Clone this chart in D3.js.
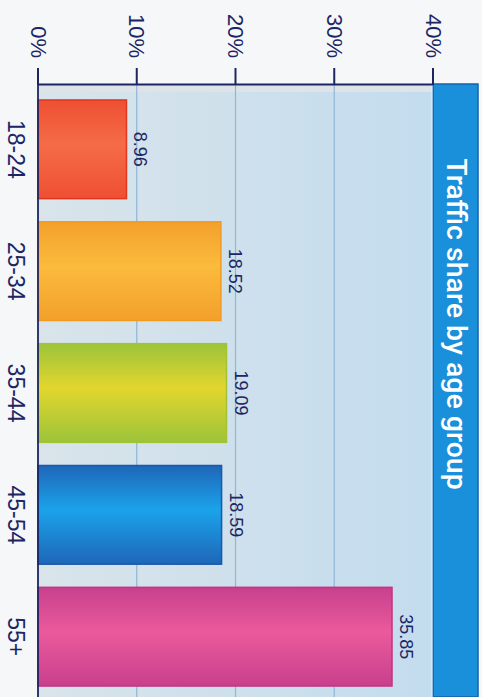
<!DOCTYPE html>
<html>
<head>
<meta charset="utf-8">
<script src="https://cdn.jsdelivr.net/npm/d3@7"></script>
<style>
  html, body { margin: 0; padding: 0; background: #f6f7f9; overflow: hidden; }
  text { font-family: "Liberation Sans", Arial, sans-serif; }
</style>
</head>
<body>
<script>
const width = 482;
const height = 697;

// chart data
const categories = ["18-24", "25-34", "35-44", "45-54", "55+"];
const values = [8.96, 18.52, 19.09, 18.59, 35.85];
const tickValues = [0, 10, 20, 30, 40];
const tickLabels = ["0%", "10%", "20%", "30%", "40%"];
const title = "Traffic share by age group";
// edge colour / centre colour per bar
const edgeColors = ["#ee4f32", "#f3a02c", "#9cc43a", "#1f66b8", "#c8408c"];
const midColors = ["#f56c47", "#fbbb3c", "#e2d62e", "#1ba3ea", "#ea5a9c"];
const strokeColors = ["#e2371f", "#f09a1e", "#a4c232", "#1b5aa8", "#c23585"];

const navy = "#1c2664";

const svg = d3.select("body")
  .append("svg")
  .attr("width", width)
  .attr("height", height)
  .attr("viewBox", [0, 0, width, height]);

const x = d3.scaleLinear().domain([0, 40]).range([38, 433]);
const y = d3.scaleBand().domain(categories).range([89, 697])
  .paddingInner(0.19).paddingOuter(0.09);

const defs = svg.append("defs");

const bg = defs.append("linearGradient").attr("id", "plotbg")
  .attr("x1", 0).attr("y1", 0).attr("x2", 1).attr("y2", 0);
bg.append("stop").attr("offset", 0).attr("stop-color", "#d9e4ea");
bg.append("stop").attr("offset", 1).attr("stop-color", "#c3dcee");

categories.forEach((c, i) => {
  const g = defs.append("linearGradient").attr("id", "bar" + i)
    .attr("x1", 0).attr("y1", 0).attr("x2", 0).attr("y2", 1);
  g.append("stop").attr("offset", 0).attr("stop-color", edgeColors[i]);
  g.append("stop").attr("offset", 0.45).attr("stop-color", midColors[i]);
  g.append("stop").attr("offset", 1).attr("stop-color", edgeColors[i]);
});

// plot background
svg.append("rect")
  .attr("x", x(0)).attr("y", 85)
  .attr("width", x(40) - x(0)).attr("height", height - 85)
  .attr("fill", "url(#plotbg)");
svg.append("rect")
  .attr("x", x(0)).attr("y", 85)
  .attr("width", x(40) - x(0)).attr("height", 7)
  .attr("fill", "#dde3e7");

// grid lines
svg.selectAll("line.grid")
  .data(tickValues.slice(1, 4))
  .enter()
  .append("line")
  .attr("class", "grid")
  .attr("x1", d => x(d)).attr("x2", d => x(d))
  .attr("y1", 85).attr("y2", height)
  .attr("stroke", "#8fb6d6")
  .attr("stroke-width", 1.2);

// title band
svg.append("rect")
  .attr("x", x(40)).attr("y", 84)
  .attr("width", 45).attr("height", height - 84)
  .attr("fill", "#1a90da")
  .attr("stroke", "#1462ae")
  .attr("stroke-width", 1.5);
svg.append("line")
  .attr("x1", x(40) - 1).attr("x2", x(40) - 1)
  .attr("y1", 85).attr("y2", height)
  .attr("stroke", "#e6f1f8").attr("stroke-width", 1);

svg.append("text")
  .attr("transform", `translate(456,324) rotate(90)`)
  .attr("text-anchor", "middle")
  .attr("dominant-baseline", "central")
  .attr("fill", "#ffffff")
  .style("font-family", "Roboto, 'Liberation Sans', sans-serif")
  .style("font-weight", 500)
  .style("font-size", "28.5px")
  .text(title);

// bars
svg.selectAll("rect.bar")
  .data(values)
  .enter()
  .append("rect")
  .attr("class", "bar")
  .attr("x", x(0))
  .attr("y", (d, i) => y(categories[i]))
  .attr("width", d => x(d) - x(0))
  .attr("height", y.bandwidth())
  .attr("fill", (d, i) => "url(#bar" + i + ")")
  .attr("stroke", (d, i) => strokeColors[i])
  .attr("stroke-width", 1.5);

// value labels
svg.selectAll("text.value")
  .data(values)
  .enter()
  .append("text")
  .attr("class", "value")
  .attr("transform", (d, i) =>
    `translate(${x(d) + 14},${y(categories[i]) + y.bandwidth() / 2}) rotate(90)`)
  .attr("text-anchor", "middle")
  .attr("dominant-baseline", "central")
  .attr("fill", navy)
  .style("font-size", "18px")
  .text(d => d.toFixed(2));

// category labels
svg.selectAll("text.cat")
  .data(categories)
  .enter()
  .append("text")
  .attr("class", "cat")
  .attr("transform", d => `translate(16,${y(d) + y.bandwidth() / 2}) rotate(90)`)
  .attr("text-anchor", "middle")
  .attr("dominant-baseline", "central")
  .attr("fill", navy)
  .style("font-size", "23px")
  .text(d => d);

// axes lines
svg.append("line")
  .attr("x1", x(0)).attr("x2", x(40))
  .attr("y1", 84.5).attr("y2", 84.5)
  .attr("stroke", navy).attr("stroke-width", 1.8);
svg.append("line")
  .attr("x1", x(0)).attr("x2", x(0))
  .attr("y1", 84).attr("y2", height)
  .attr("stroke", navy).attr("stroke-width", 1.8);

// ticks
svg.selectAll("line.tick")
  .data(tickValues)
  .enter()
  .append("line")
  .attr("class", "tick")
  .attr("x1", d => x(d)).attr("x2", d => x(d))
  .attr("y1", 68).attr("y2", 85)
  .attr("stroke", navy).attr("stroke-width", 2);

svg.selectAll("text.tick")
  .data(tickValues)
  .enter()
  .append("text")
  .attr("class", "tick")
  .attr("transform", d => `translate(${x(d)},58) rotate(90)`)
  .attr("text-anchor", "end")
  .attr("dominant-baseline", "central")
  .attr("fill", navy)
  .style("font-size", "22px")
  .text((d, i) => tickLabels[i]);
</script>
</body>
</html>
